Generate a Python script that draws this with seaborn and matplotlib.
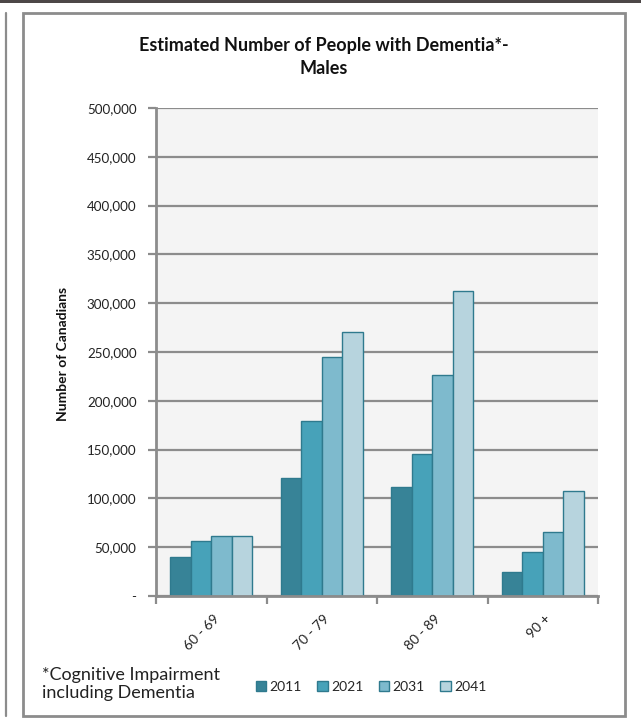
import matplotlib
matplotlib.use("Agg")
import matplotlib.pyplot as plt
import matplotlib.patches as mpatches
import matplotlib.transforms as mtransforms
import seaborn as sns
import pandas as pd

# ---- data ----
age_groups = ["60 - 69", "70 - 79", "80 - 89", "90 +"]
years = ["2011", "2021", "2031", "2041"]
values_2011 = [40000, 121000, 112000, 25000]
values_2021 = [56000, 179000, 145000, 45000]
values_2031 = [61000, 245000, 226000, 66000]
values_2041 = [61000, 270000, 313000, 108000]
y_ticks = [0, 50000, 100000, 150000, 200000, 250000, 300000, 350000, 400000, 450000, 500000]

series = {"2011": values_2011, "2021": values_2021, "2031": values_2031, "2041": values_2041}
rows = []
for yr in years:
    for ag, v in zip(age_groups, series[yr]):
        rows.append({"Age": ag, "Year": yr, "Value": v})
df = pd.DataFrame(rows)

colors = ["#378397", "#47a2b9", "#7ebacd", "#b7d4de"]
edge = "#2f7a8e"
grey = "#8c8c8c"

sns.set_theme(style="white")
plt.rcParams["font.family"] = ["Lato", "DejaVu Sans"]

W, H = 641, 722
fig = plt.figure(figsize=(W / 100, H / 100), dpi=100)

def fx(px):
    return px / W

def fy(py):
    return 1 - py / H

# decorations
fig.patches.append(mpatches.Rectangle((0, fy(3)), 1, 3 / H, transform=fig.transFigure,
                                      facecolor="#4d4747", edgecolor="none", zorder=0))
fig.patches.append(mpatches.Rectangle((fx(23), fy(716)), fx(625) - fx(23), fy(13) - fy(716),
                                      transform=fig.transFigure, facecolor="none",
                                      edgecolor=grey, linewidth=2, zorder=0))
fig.lines.append(plt.Line2D([fx(6), fx(6)], [fy(13), fy(716)], transform=fig.transFigure,
                            color=grey, linewidth=1.6))

ax = fig.add_axes([fx(156), fy(596), fx(598) - fx(156), fy(108) - fy(596)])
ax.set_facecolor("#f4f4f4")

sns.barplot(data=df, x="Age", y="Value", hue="Year", hue_order=years, order=age_groups,
            palette=colors, saturation=1, width=0.74, gap=0, edgecolor=edge, linewidth=1,
            errorbar=None, ax=ax, zorder=3)

ax.set_ylim(0, 500000)
ax.set_xlim(-0.5, 3.5)
ax.set_yticks(y_ticks)
ax.set_yticklabels(["-" if t == 0 else f"{t:,}" for t in y_ticks], fontsize=9.6, color="#222222")
ax.yaxis.grid(True, color=grey, linewidth=1.6, zorder=0)
ax.xaxis.grid(False)
ax.set_axisbelow(True)

for s in ["top", "right"]:
    ax.spines[s].set_visible(False)
for s in ["left", "bottom"]:
    ax.spines[s].set_color(grey)
    ax.spines[s].set_linewidth(2)
    ax.spines[s].set_zorder(4)

ax.tick_params(axis="y", which="major", direction="out", length=6, width=1.6, color=grey, pad=8, left=True)
ax.set_xticks(range(len(age_groups)))
ax.set_xticklabels(age_groups, rotation=45, ha="right", va="center", rotation_mode="anchor",
                   fontsize=10, color="#222222")
ax.tick_params(axis="x", which="major", length=0, pad=15)
offset = mtransforms.ScaledTranslation(6 / 100, 0, fig.dpi_scale_trans)
for lbl in ax.get_xticklabels():
    lbl.set_transform(lbl.get_transform() + offset)
ax.set_xticks([-0.5, 0.5, 1.5, 2.5, 3.5], minor=True)
ax.tick_params(axis="x", which="minor", direction="out", length=6, width=1.6, color=grey, bottom=True)

ax.set_xlabel("")
ax.set_ylabel("")

handles, labels = ax.get_legend_handles_labels()
if ax.get_legend() is not None:
    ax.get_legend().remove()
fig.legend(handles, labels, loc="center", bbox_to_anchor=(fx(371), fy(687)), ncol=4,
           frameon=False, handlelength=0.75, handleheight=0.75, handletextpad=0.25,
           columnspacing=1.1, fontsize=10, borderaxespad=0)

fig.text(fx(324), fy(46), "Estimated Number of People with Dementia*-", ha="center", va="center",
         fontsize=13, fontweight="bold", color="#111111")
fig.text(fx(324), fy(68), "Males", ha="center", va="center",
         fontsize=13, fontweight="bold", color="#111111")
fig.text(fx(63), fy(354), "Number of Canadians", ha="center", va="center", rotation=90,
         fontsize=10, fontweight="bold", color="#111111")
fig.text(fx(42), fy(684), "*Cognitive Impairment\nincluding Dementia", ha="left", va="center",
         fontsize=13, color="#222222", linespacing=1.2)

fig.savefig("out.png", dpi=100)
